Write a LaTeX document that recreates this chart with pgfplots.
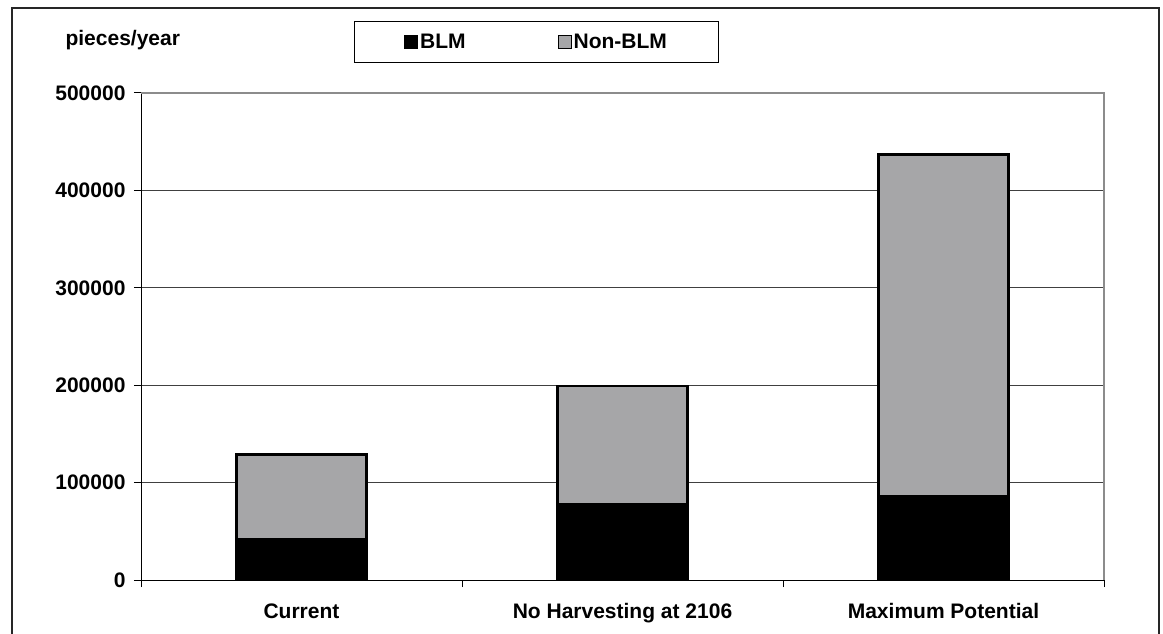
\documentclass[border=0pt]{standalone}
\usepackage{pgfplots}
\pgfplotsset{compat=1.18}
\usepackage{fontspec}
\setmainfont{Liberation Sans}
\definecolor{nonblm}{RGB}{166,166,168}
\definecolor{gridc}{RGB}{64,64,64}
\definecolor{framec}{RGB}{140,140,140}
\begin{document}
\begin{tikzpicture}[x=1pt,y=1pt]
\useasboundingbox (0,0) rectangle (1163,633);
\draw[line width=1.5pt, black!85] (12,-5) -- (12,625) -- (1159,625) -- (1159,-5);
\begin{axis}[
  at={(141pt,53pt)}, anchor=south west,
  scale only axis, width=963pt, height=487pt,
  xmin=-0.5, xmax=2.5, ymin=0, ymax=500000,
  ybar stacked, bar width=130pt,
  axis x line*=bottom, axis y line*=left,
  axis line style={black, line width=1pt},
  xtick={-0.5,0.5,1.5,2.5},
  xticklabels={Current, No Harvesting at 2106, Maximum Potential},
  x tick label as interval,
  ytick={0,100000,200000,300000,400000,500000},
  yticklabels={0,100000,200000,300000,400000,500000},
  scaled y ticks=false,
  tick align=outside, major tick length=7pt,
  tick style={black, line width=1pt},
  ymajorgrids, major grid style={gridc, line width=1pt},
  ticklabel style={font=\bfseries\fontsize{21}{25}\selectfont},
  y tick label style={xshift=-5pt},
  x tick label style={yshift=-13pt},
  ylabel={pieces/year},
  ylabel style={rotate=-90, at={(rel axis cs:-0.082,1.109)}, anchor=west, font=\bfseries\fontsize{21}{25}\selectfont},
  legend columns=2,
  legend style={at={(rel axis cs:0.4107,1.1047)}, anchor=center, draw=black, line width=1pt,
    inner xsep=50pt, inner ysep=10.5pt, font=\bfseries\fontsize{21}{25}\selectfont,
    nodes={inner xsep=2pt},
    /tikz/every even column/.append style={column sep=90pt}},
  after end axis/.code={\draw[framec, line width=2pt] (rel axis cs:0,1) -- (rel axis cs:1,1) -- (rel axis cs:1,0);},
]
\addplot[fill=black, draw=black, line width=2.5pt,
  legend image code/.code={\draw[fill=black, draw=black, line width=1pt] (0pt,-6.5pt) rectangle (13pt,6.5pt);}]
  coordinates {(0,42000) (1,78000) (2,86000)};
\addplot[fill=nonblm, draw=black, line width=2.5pt,
  legend image code/.code={\draw[fill=nonblm, draw=black, line width=1pt] (0pt,-6.5pt) rectangle (13pt,6.5pt);}]
  coordinates {(0,87000) (1,121000) (2,351000)};
\legend{BLM, Non-BLM}
\end{axis}
\end{tikzpicture}
\end{document}
